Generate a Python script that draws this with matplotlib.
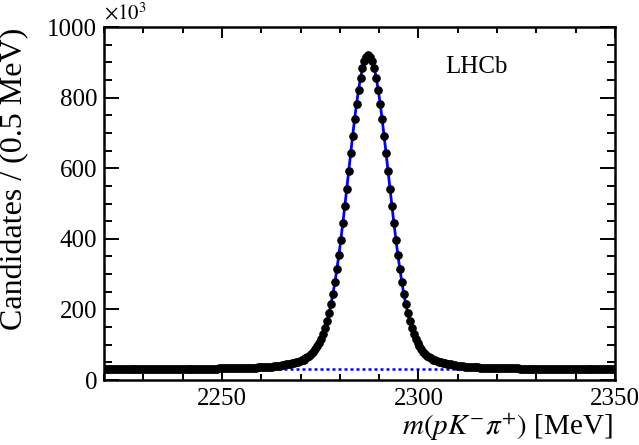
import numpy as np
import matplotlib

matplotlib.use("Agg")
import matplotlib.pyplot as plt
from matplotlib import rcParams
from matplotlib.ticker import MultipleLocator

rcParams["font.family"] = ["Liberation Serif", "DejaVu Serif"]
rcParams["mathtext.fontset"] = "stix"

# binning of the m(pK-pi+) histogram
MASS_MIN = 2220.0
MASS_MAX = 2350.0
BIN_WIDTH = 0.5

# candidates per bin, in units of 10^3
counts = [
    30, 30, 30, 30, 30, 30, 30, 30, 30, 30,
    30, 30, 30, 30, 30, 30, 30, 31, 31, 31,
    31, 31, 31, 31, 31, 31, 31, 31, 31, 31,
    31, 31, 31, 31, 31, 31, 31, 31, 31, 31,
    31, 31, 31, 32, 32, 32, 32, 32, 32, 32,
    32, 32, 32, 32, 32, 32, 32, 32, 33, 33,
    33, 33, 33, 33, 33, 33, 33, 34, 34, 34,
    34, 34, 34, 34, 35, 35, 35, 35, 36, 36,
    36, 37, 37, 38, 38, 38, 39, 40, 40, 41,
    42, 43, 44, 45, 46, 47, 48, 50, 51, 53,
    56, 58, 61, 65, 69, 74, 80, 87, 95, 105,
    117, 131, 148, 168, 190, 216, 245, 278, 315, 355,
    398, 444, 492, 542, 592, 643, 692, 739, 783, 822,
    856, 883, 904, 916, 920, 916, 904, 883, 856, 822,
    783, 739, 692, 643, 592, 542, 492, 444, 398, 355,
    315, 278, 245, 216, 190, 168, 148, 131, 117, 105,
    95, 87, 80, 74, 69, 65, 61, 58, 56, 53,
    51, 50, 48, 47, 46, 45, 44, 43, 42, 41,
    40, 40, 39, 38, 38, 38, 37, 37, 36, 36,
    36, 35, 35, 35, 35, 34, 34, 34, 34, 34,
    34, 34, 33, 33, 33, 33, 33, 33, 33, 33,
    33, 32, 32, 32, 32, 32, 32, 32, 32, 32,
    32, 32, 32, 32, 32, 32, 31, 31, 31, 31,
    31, 31, 31, 31, 31, 31, 31, 31, 31, 31,
    31, 31, 31, 31, 31, 31, 31, 31, 31, 31,
    31, 31, 30, 30, 30, 30, 30, 30, 30, 30,
]

# combinatorial background component of the fit
bkg_mass = [2220.0, 2350.0]
bkg_level = [30.0, 30.0]

x_major = [2250, 2300, 2350]


def main() -> None:
    n_bins = len(counts)
    mass = MASS_MIN + BIN_WIDTH * (np.arange(n_bins) + 0.5)

    fig = plt.figure(figsize=(6.39, 4.45), dpi=100)
    ax = fig.add_axes([0.1628, 0.146, 0.7997, 0.7933])

    ax.plot(bkg_mass, bkg_level, color="#0000ff", lw=1.8,
            ls=(0, (1.2, 1.2)), zorder=1)
    ax.plot(mass, counts, color="#0000ff", lw=2.0, zorder=2)
    ax.plot(mass, counts, "o", color="black", ms=5.2, zorder=3)

    ax.set_xlim(MASS_MIN, MASS_MAX)
    ax.set_ylim(0, 1000)
    ax.set_xticks(x_major)
    ax.xaxis.set_minor_locator(MultipleLocator(10))
    ax.yaxis.set_major_locator(MultipleLocator(200))
    ax.yaxis.set_minor_locator(MultipleLocator(50))

    ax.tick_params(which="both", direction="in", top=True, right=True,
                   width=1.4, labelsize=18)
    ax.tick_params(axis="x", which="major", length=8, pad=6)
    ax.tick_params(axis="x", which="minor", length=4.5)
    ax.tick_params(axis="y", which="major", length=11, pad=5)
    ax.tick_params(axis="y", which="minor", length=6)
    for spine in ax.spines.values():
        spine.set_linewidth(1.8)

    # ROOT style: axis titles pushed to the far end of each axis
    ax.set_xlabel(r"$m(pK^{-}\pi^{+})$ [MeV]", fontsize=21, loc="right")
    ax.set_ylabel("Candidates / (0.5 MeV)", fontsize=23, loc="bottom")
    ax.yaxis.set_label_coords(-0.147, 0.142)
    ax.xaxis.set_label_coords(0.995, -0.088)

    ax.text(0.0, 1.008, r"$\times10^{3}$", transform=ax.transAxes,
            ha="left", va="bottom", fontsize=15)
    ax.text(0.728, 0.887, "LHCb", transform=ax.transAxes,
            ha="center", va="center", fontsize=18)

    fig.savefig("out.png", dpi=100)
    plt.close(fig)


if __name__ == "__main__":
    main()
